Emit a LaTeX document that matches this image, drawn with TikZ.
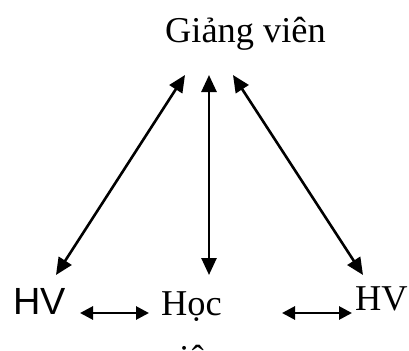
\documentclass[tikz,border=0pt]{standalone}
\usepackage{fontspec}
\setmainfont{Liberation Serif}
\newfontfamily\arialfont{Liberation Sans}
\usetikzlibrary{arrows.meta}
\begin{document}
\begin{tikzpicture}[x=1bp,y=-1bp,
  lbl/.style={anchor=base west,inner sep=0pt,font=\fontsize{36.5}{40}\selectfont},
  diag/.style={line width=2.6bp,{Triangle[length=17bp,width=15bp]}-{Triangle[length=17bp,width=15bp]}},
  horiz/.style={line width=2.8bp,{Triangle[length=13bp,width=13bp]}-{Triangle[length=13bp,width=13bp]}}]
\useasboundingbox (0,0) rectangle (409,351);
\node[lbl] (gv) at (165,42) {Giảng viên};
\node[lbl] (hoc) at (161,315) {Học};
\node[lbl] (hocb) at (161,370) {viên};
\node[lbl] (hvr) at (355,310) {HV};
\node[lbl,font=\arialfont\fontsize{38}{42}\selectfont] (hvl) at (13,314) {HV};
\coordinate (tl) at (185,75);
\coordinate (tm) at (209,75);
\coordinate (tr) at (233,75);
\coordinate (bl) at (56,275);
\coordinate (bm) at (209,275);
\coordinate (br) at (363,275);
\coordinate (h1a) at (80,313);
\coordinate (h1b) at (149,313);
\coordinate (h2a) at (282,313);
\coordinate (h2b) at (352,313);
\draw[diag] (tl) -- (bl);
\draw[diag] (tm) -- (bm);
\draw[diag] (tr) -- (br);
\draw[horiz] (h1a) -- (h1b);
\draw[horiz] (h2a) -- (h2b);
\end{tikzpicture}
\end{document}
